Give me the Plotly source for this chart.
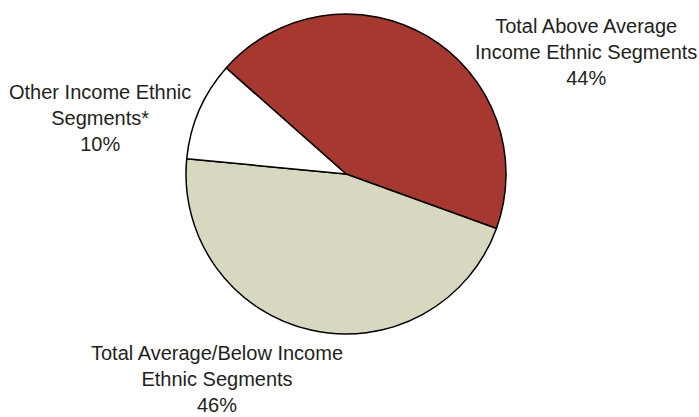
import plotly.graph_objects as go

# Data
categories = [
    "Total Above Average<br>Income Ethnic Segments",
    "Total Average/Below Income<br>Ethnic Segments",
    "Other Income Ethnic<br>Segments*",
]
values = [44, 46, 10]
colors = ["#A63830", "#D8D8C0", "#FFFFFF"]

# label placement (pixel centres of each label block)
label_px = [(586, 52), (217, 379), (100, 118)]

W, H = 699, 417
cx, cy, r = 346, 174, 160

fig = go.Figure()
fig.add_trace(go.Pie(
    labels=categories,
    values=values,
    sort=False,
    direction="clockwise",
    rotation=-48.5,
    marker=dict(colors=colors, line=dict(color="#000000", width=1.5)),
    textinfo="none",
    hoverinfo="label+percent",
    showlegend=False,
    domain=dict(x=[(cx - r) / W, (cx + r) / W], y=[1 - (cy + r) / H, 1 - (cy - r) / H]),
))

total = sum(values)
for cat, v, (px, py) in zip(categories, values, label_px):
    fig.add_annotation(
        x=px / W, y=1 - py / H, xref="paper", yref="paper",
        text=f"{cat}<br>{round(100 * v / total)}%",
        showarrow=False, xanchor="center", yanchor="middle", align="center",
        font=dict(family="Liberation Sans, Arial, sans-serif", size=20, color="#231F20"),
    )

fig.update_layout(
    width=W, height=H,
    margin=dict(l=0, r=0, t=0, b=0),
    paper_bgcolor="white", plot_bgcolor="white",
)

fig.write_html("out.html", config={"displayModeBar": False},
               post_script="document.body.style.margin='0';")
